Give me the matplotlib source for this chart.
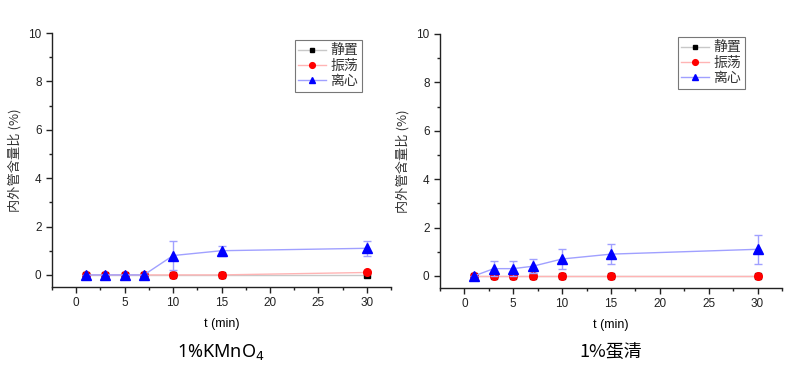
import matplotlib
matplotlib.use('Agg')
import matplotlib.pyplot as plt
from matplotlib.ticker import MultipleLocator

plt.rcParams['font.family'] = ['Liberation Sans', 'Noto Sans CJK SC', 'DejaVu Sans']

# Data
t = [1, 3, 5, 7, 10, 15, 30]
series_names = ['静置', '振荡', '离心']

kmno4_static = [0, 0, 0, 0, 0, 0, 0]
kmno4_shake = [0, 0, 0, 0, 0, 0, 0.1]
kmno4_centri = [0, 0, 0, 0, 0.8, 1.0, 1.1]
kmno4_centri_err = [0, 0, 0, 0, 0.6, 0.2, 0.3]

egg_static = [0, 0, 0, 0, 0, 0, 0]
egg_shake = [0, 0, 0, 0, 0, 0, 0]
egg_centri = [0, 0.3, 0.3, 0.4, 0.7, 0.9, 1.1]
egg_centri_err = [0, 0.3, 0.3, 0.3, 0.4, 0.4, 0.6]

panel_titles = ['1%KMnO$_4$', '1%蛋清']

fig = plt.figure(figsize=(8, 3.71), dpi=100)
W, H = 800, 371
CJK = ['Noto Sans CJK SC', 'DejaVu Sans']


def px_axes(left, top, right, bottom):
    return fig.add_axes([left / W, 1 - bottom / H, (right - left) / W, (bottom - top) / H])


def draw_panel(ax, static, shake, centri, centri_err, legend_pos):
    ax.plot(t, static, color='#c8c8c8', lw=1, marker='s', ms=4.5,
            mfc='black', mec='black', label=series_names[0], zorder=3)
    ax.plot(t, shake, color='#ffb4b4', lw=1, marker='o', ms=5.5,
            mfc='red', mec='red', label=series_names[1], zorder=4)
    ax.errorbar(t, centri, yerr=centri_err, fmt='none', ecolor='#a0a0ff',
                elinewidth=1, capsize=3, capthick=1, zorder=5)
    ax.plot(t, centri, color='#a0a0ff', lw=1, marker='^', ms=6.5,
            mfc='blue', mec='blue', label=series_names[2], zorder=6)
    ax.set_xlim(-2.5, 32.5)
    ax.set_ylim(-0.5, 10)
    ax.xaxis.set_major_locator(MultipleLocator(5))
    ax.xaxis.set_minor_locator(MultipleLocator(2.5))
    ax.yaxis.set_major_locator(MultipleLocator(2))
    ax.yaxis.set_minor_locator(MultipleLocator(1))
    ax.spines['top'].set_visible(False)
    ax.spines['right'].set_visible(False)
    for s in ('left', 'bottom'):
        ax.spines[s].set_linewidth(1)
        ax.spines[s].set_color('#222222')
    ax.tick_params(which='major', direction='out', length=4, width=1,
                   labelsize=8.5, colors='#222222')
    ax.tick_params(which='minor', direction='out', length=2, width=1,
                   colors='#222222')
    ax.set_xlabel('t (min)', fontsize=9, labelpad=6)
    ax.set_ylabel('内外管含量比 (%)', fontsize=9.5, color='#333333',
                  family=CJK, labelpad=5)
    leg = ax.legend(loc='upper left', bbox_to_anchor=legend_pos,
                    frameon=True, fancybox=False, edgecolor='#555555',
                    borderpad=0.25, handlelength=2.0, handletextpad=0.3,
                    labelspacing=0.1, borderaxespad=0, markerscale=0.75,
                    prop={'family': CJK, 'size': 10})
    leg.get_frame().set_linewidth(0.8)
    for txt in leg.get_texts():
        txt.set_color('#333333')


ax1 = px_axes(52, 33, 391, 287)
draw_panel(ax1, kmno4_static, kmno4_shake, kmno4_centri, kmno4_centri_err,
           ((295 - 52) / 339, (287 - 40) / 254))
ax2 = px_axes(440, 34, 782, 288)
draw_panel(ax2, egg_static, egg_shake, egg_centri, egg_centri_err,
           ((678 - 440) / 342, (288 - 37) / 254))

fig.text(221 / W, 1 - 352 / H, panel_titles[0], ha='center', va='center',
         fontsize=13, family=['Noto Sans', 'DejaVu Sans'])
fig.text(611 / W, 1 - 352 / H, panel_titles[1], ha='center', va='center',
         fontsize=13, family=CJK)

fig.savefig('out.png', dpi=100)
